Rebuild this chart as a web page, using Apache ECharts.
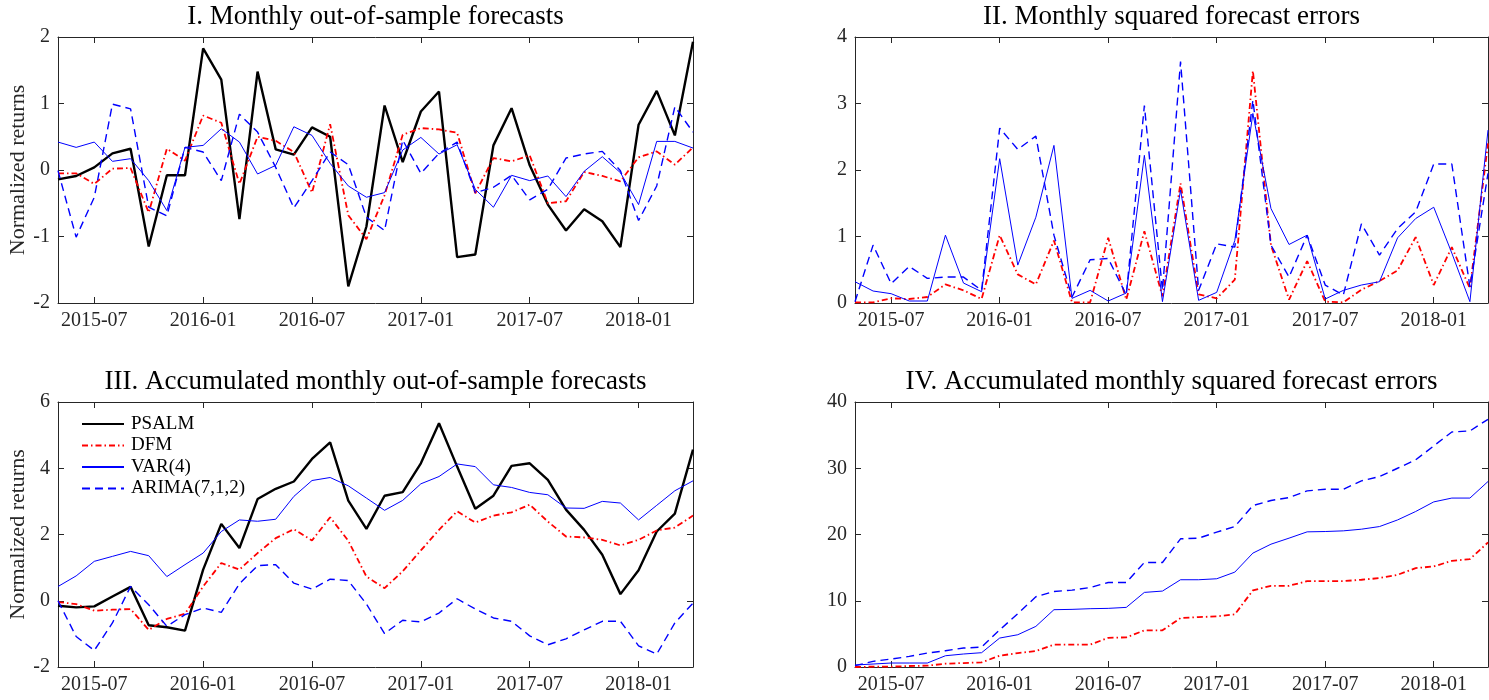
<!DOCTYPE html>
<html>
<head>
<meta charset="utf-8">
<script src="https://cdn.jsdelivr.net/npm/echarts@6/dist/echarts.min.js"></script>
<style>
html,body{margin:0;padding:0;background:#fff;}
#chart{width:1489px;height:700px;}
</style>
</head>
<body>
<div id="chart"></div>
<script>
const months = ['2015-05','2015-06','2015-07','2015-08','2015-09','2015-10','2015-11','2015-12',
'2016-01','2016-02','2016-03','2016-04','2016-05','2016-06','2016-07','2016-08','2016-09','2016-10','2016-11','2016-12',
'2017-01','2017-02','2017-03','2017-04','2017-05','2017-06','2017-07','2017-08','2017-09','2017-10','2017-11','2017-12',
'2018-01','2018-02','2018-03','2018-04'];
const tickMonths = ['2015-07','2016-01','2016-07','2017-01','2017-07','2018-01'];

const seriesNames = ['PSALM','DFM','VAR(4)','ARIMA(7,1,2)'];
const titles = ['I. Monthly out-of-sample forecasts','II. Monthly squared forecast errors',
  'III. Accumulated monthly out-of-sample forecasts','IV. Accumulated monthly squared forecast errors'];
const yLabel = 'Normalized returns';

// Panel I: monthly forecasts
const psalmF = [-0.14,-0.09,0.04,0.25,0.32,-1.15,-0.08,-0.08,1.83,1.36,-0.74,1.48,0.31,0.23,0.64,0.5,-1.75,-0.85,0.97,0.12,0.88,1.18,-1.31,-1.27,0.37,0.93,0.07,-0.52,-0.91,-0.59,-0.77,-1.16,0.68,1.19,0.52,1.93];
const dfmF = [-0.05,-0.05,-0.21,0.02,0.03,-0.64,0.32,0.14,0.82,0.71,-0.21,0.5,0.44,0.27,-0.34,0.69,-0.68,-1.04,-0.38,0.53,0.63,0.61,0.56,-0.35,0.18,0.13,0.22,-0.5,-0.47,-0.03,-0.09,-0.17,0.19,0.28,0.08,0.34];
const varF = [0.42,0.34,0.42,0.13,0.17,-0.16,-0.61,0.34,0.37,0.62,0.42,-0.06,0.07,0.65,0.52,0.1,-0.24,-0.41,-0.34,0.3,0.49,0.24,0.38,-0.29,-0.56,-0.08,-0.16,-0.09,-0.4,-0.02,0.2,-0.04,-0.52,0.43,0.43,0.33];
const arimaF = [-0.01,-1.01,-0.41,0.99,0.92,-0.56,-0.69,0.34,0.27,-0.16,0.84,0.57,0.04,-0.57,-0.16,0.27,0.08,-0.71,-0.91,0.45,-0.05,0.25,0.42,-0.34,-0.26,-0.08,-0.45,-0.29,0.18,0.24,0.28,-0.01,-0.76,-0.24,0.95,0.57];

// Panel II: monthly squared errors
const dfmE = [0.01,0.01,0.07,0.06,0.09,0.28,0.19,0.06,1.02,0.43,0.28,0.94,0.01,0.01,0.98,0.05,1.08,0.1,1.8,0.13,0.07,0.35,3.49,0.87,0.05,0.63,0.02,0.01,0.2,0.33,0.49,0.99,0.27,0.84,0.22,2.4];
const varE = [0.32,0.18,0.14,0.03,0.03,1.02,0.3,0.17,2.17,0.57,1.29,2.37,0.07,0.19,0.03,0.15,2.22,0.02,1.7,0.04,0.16,0.94,2.85,1.42,0.88,1.02,0.06,0.19,0.27,0.32,0.98,1.27,1.44,0.75,0.02,2.6];
const arimaE = [0.02,0.87,0.29,0.55,0.37,0.39,0.39,0.19,2.63,2.31,2.51,1.02,0.09,0.65,0.67,0.12,2.97,0.19,3.63,0.19,0.89,0.84,3.05,0.87,0.39,1.02,0.27,0.12,1.19,0.72,1.12,1.37,2.09,2.09,0.24,1.95];

// Panel III: accumulated forecasts
const psalmA = [-0.15,-0.2,-0.17,0.13,0.42,-0.74,-0.8,-0.9,0.94,2.32,1.59,3.07,3.38,3.6,4.28,4.78,3.02,2.17,3.17,3.28,4.15,5.36,4.05,2.78,3.17,4.07,4.15,3.65,2.75,2.14,1.39,0.2,0.92,2.09,2.63,4.56];
const dfmA = [-0.04,-0.1,-0.3,-0.27,-0.25,-0.88,-0.55,-0.39,0.43,1.14,0.94,1.44,1.89,2.16,1.82,2.52,1.81,0.73,0.38,0.89,1.52,2.14,2.7,2.36,2.57,2.67,2.9,2.39,1.94,1.91,1.84,1.67,1.84,2.12,2.21,2.57];
const varA = [0.43,0.75,1.19,1.34,1.49,1.36,0.73,1.09,1.44,2.09,2.44,2.4,2.46,3.15,3.63,3.72,3.47,3.1,2.73,3.03,3.53,3.75,4.13,4.05,3.5,3.42,3.27,3.2,2.8,2.79,3.0,2.95,2.44,2.88,3.32,3.62];
const arimaA = [0.0,-1.08,-1.5,-0.67,0.43,-0.12,-0.77,-0.42,-0.22,-0.35,0.51,1.06,1.09,0.53,0.35,0.65,0.61,-0.1,-0.99,-0.59,-0.64,-0.37,0.06,-0.25,-0.52,-0.62,-1.06,-1.33,-1.15,-0.88,-0.62,-0.62,-1.36,-1.61,-0.67,-0.07];

// Panel IV: accumulated squared errors
const dfmC = [0.0,0.05,0.05,0.15,0.2,0.5,0.6,0.7,1.7,2.1,2.4,3.37,3.37,3.37,4.4,4.47,5.53,5.53,7.39,7.54,7.64,7.94,11.56,12.26,12.26,12.96,12.96,12.96,13.17,13.42,13.92,14.92,15.18,16.03,16.28,18.8];
const varC = [0.3,0.45,0.6,0.6,0.6,1.7,1.96,2.16,4.37,4.87,6.13,8.65,8.7,8.8,8.85,9.0,11.26,11.46,13.17,13.17,13.32,14.32,17.19,18.54,19.45,20.4,20.45,20.55,20.8,21.2,22.2,23.47,24.92,25.5,25.5,28.0];
const arimaC = [0.2,0.85,1.2,1.6,2.1,2.46,2.86,3.0,5.6,8.05,10.6,11.4,11.6,12.0,12.76,12.76,15.78,15.78,19.35,19.45,20.35,21.2,24.37,25.13,25.58,26.58,26.83,26.83,28.1,28.74,30.0,31.26,33.37,35.48,35.63,37.39];

const yRanges = [[-2,2,1],[0,4,1],[-2,6,2],[0,40,10]];

const FONT = 'Liberation Serif';
const AX = '#262626';
const styles = {
  'PSALM': {color:'#000000', width:2.4, type:'solid'},
  'DFM': {color:'#ff0000', width:1.8, type:[6,3,1.5,3]},
  'VAR(4)': {color:'#0000ff', width:1, type:'solid'},
  'ARIMA(7,1,2)': {color:'#0000ff', width:1.4, type:[8,5]}
};

const grids = [
  {left:58, top:37, width:635, height:266},
  {left:855, top:37, width:633, height:266},
  {left:58, top:402, width:635, height:265},
  {left:855, top:402, width:633, height:265}
];

const isTick = (idx, val) => tickMonths.indexOf(months[idx]) >= 0;

const xAxes = [], yAxes = [];
grids.forEach((g, i) => {
  xAxes.push({
    type:'category', gridIndex:i, data:months, boundaryGap:false, position:'bottom',
    axisLine:{onZero:false, lineStyle:{color:AX, width:1}},
    axisTick:{inside:true, length:6, interval:isTick, lineStyle:{color:AX}},
    axisLabel:{interval:isTick, color:AX, fontFamily:FONT, fontSize:20, margin:8},
    splitLine:{show:false}
  });
  xAxes.push({
    type:'category', gridIndex:i, data:months, boundaryGap:false, position:'top',
    axisLine:{onZero:false, lineStyle:{color:AX, width:1}},
    axisTick:{inside:true, length:6, interval:isTick, lineStyle:{color:AX}},
    axisLabel:{show:false}, splitLine:{show:false}
  });
  const r = yRanges[i];
  const showName = (i === 0 || i === 2);
  yAxes.push({
    type:'value', gridIndex:i, position:'left', min:r[0], max:r[1], interval:r[2],
    name: showName ? yLabel : '', nameLocation:'middle', nameRotate:90, nameGap:27,
    nameTextStyle:{color:AX, fontFamily:FONT, fontSize:22},
    axisLine:{show:true, onZero:false, lineStyle:{color:AX, width:1}},
    axisTick:{show:true, inside:true, length:6, lineStyle:{color:AX}},
    axisLabel:{color:AX, fontFamily:FONT, fontSize:20, margin:8},
    splitLine:{show:false}
  });
  yAxes.push({
    type:'value', gridIndex:i, position:'right', min:r[0], max:r[1], interval:r[2],
    axisLine:{show:true, onZero:false, lineStyle:{color:AX, width:1}},
    axisTick:{show:true, inside:true, length:6, lineStyle:{color:AX}},
    axisLabel:{show:false}, splitLine:{show:false}
  });
});

function mk(name, data, gi) {
  const s = styles[name];
  return {
    name:name, type:'line', data:data, xAxisIndex:gi*2, yAxisIndex:gi*2,
    symbol:'none', showSymbol:false, animation:false, silent:true,
    lineStyle:{color:s.color, width:s.width, type:s.type},
    itemStyle:{color:s.color}, z:2
  };
}

const series = [
  mk('PSALM', psalmF, 0), mk('DFM', dfmF, 0), mk('VAR(4)', varF, 0), mk('ARIMA(7,1,2)', arimaF, 0),
  mk('DFM', dfmE, 1), mk('VAR(4)', varE, 1), mk('ARIMA(7,1,2)', arimaE, 1),
  mk('PSALM', psalmA, 2), mk('DFM', dfmA, 2), mk('VAR(4)', varA, 2), mk('ARIMA(7,1,2)', arimaA, 2),
  mk('DFM', dfmC, 3), mk('VAR(4)', varC, 3), mk('ARIMA(7,1,2)', arimaC, 3)
];

const titleCenters = [[375.5,17],[1171.5,17],[375.5,382],[1171.5,382]];
const graphic = titles.map((t, i) => ({
  type:'text', x:titleCenters[i][0], y:titleCenters[i][1],
  style:{text:t, fill:'#000', font:'27px "' + FONT + '"', textAlign:'center', textVerticalAlign:'middle'}
}));

const chart = echarts.init(document.getElementById('chart'), null, {renderer:'canvas'});
chart.setOption({
  animation:false,
  backgroundColor:'#fff',
  grid:grids,
  xAxis:xAxes,
  yAxis:yAxes,
  series:series,
  graphic:graphic,
  legend:{
    data:seriesNames, orient:'vertical', left:76, top:409,
    itemWidth:42, itemHeight:12, itemGap:1.5,
    itemStyle:{opacity:0},
    textStyle:{color:'#000', fontFamily:FONT, fontSize:19, lineHeight:20, padding:[0,0,0,2]},
    selectedMode:false, backgroundColor:'transparent'
  }
});
</script>
</body>
</html>
